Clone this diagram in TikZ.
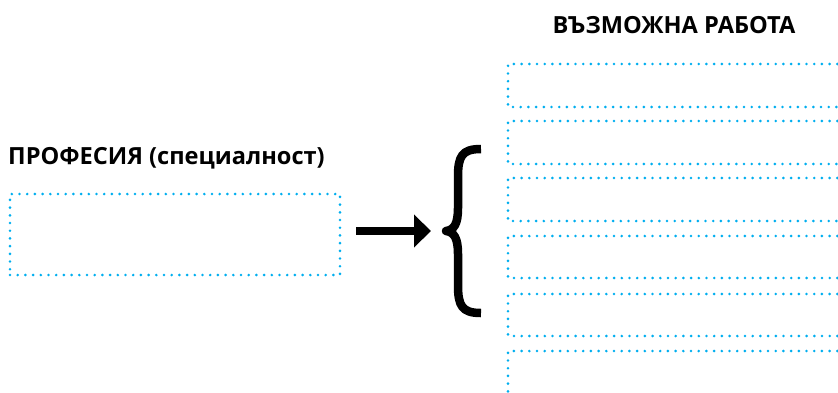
\documentclass[tikz,border=0pt]{standalone}
\usepackage{fontspec}
\setmainfont{Open Sans}
\usetikzlibrary{arrows.meta}
\definecolor{dotblue}{HTML}{00AEEF}
\begin{document}
\begin{tikzpicture}[x=1pt,y=-1pt,
  dotline/.style={draw=dotblue, line width=2.9pt, line cap=round, dash pattern=on 0pt off 7.7pt},
  title/.style={font=\fontsize{23.6}{26}\selectfont\bfseries, inner sep=0pt, anchor=base}]
\useasboundingbox (0,0) rectangle (838,392);
% titles
\node[title, anchor=base west] (proflabel) at (8,164) {ПРОФЕСИЯ (специалност)};
\node[title] (jobtitle) at (674,33) {ВЪЗМОЖНА РАБОТА};
% left box
\node[dotline, minimum width=330pt, minimum height=81pt, inner sep=0pt] (prof) at (175,234.5) {};
% arrow
\coordinate (arrs) at (356,231);
\coordinate (arre) at (431,231);
\draw[line width=8pt, -{Triangle[length=17pt,width=32pt]}] (arrs) -- (arre);
% brace
\coordinate (bracetip) at (446,231);
\draw[line width=8.5pt, line cap=butt, line join=round] (481,149) .. controls (462,149) and (458,156) .. (458,177) -- (458,208)
  .. controls (458,224) and (454,230) .. (bracetip)
  .. controls (454,232) and (458,238) .. (458,254) -- (458,285)
  .. controls (458,306) and (462,313) .. (481,313);
% right rows
\foreach \t/\b [count=\i] in {64/107,121/164,178/221,236/278,294/336,351/400}{
  \coordinate (r\i) at (508,\t);
  \draw[dotline] (845,\t) -- (r\i) -- (508,\b) -- (845,\b);
}
\end{tikzpicture}
\end{document}
